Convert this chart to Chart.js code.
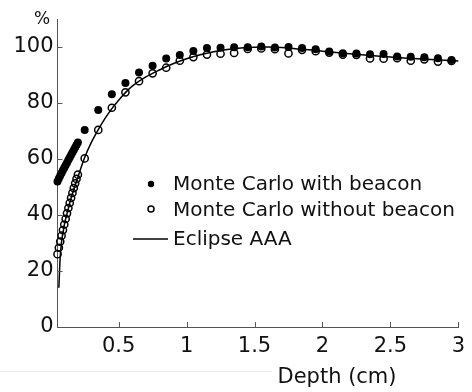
<!DOCTYPE html>
<html>
<head>
<meta charset="utf-8">
<script src="https://cdn.jsdelivr.net/npm/chart.js@4.4.0/dist/chart.umd.min.js"></script>
<style>
html,body{margin:0;padding:0;background:#fff;}
#wrap{width:472px;height:392px;position:relative;}
</style>
</head>
<body>
<div id="wrap"><canvas id="c" width="472" height="392"></canvas></div>
<script>
// ---- data ----
const depthFine = [0.05,0.06,0.07,0.08,0.09,0.10,0.11,0.12,0.13,0.14,0.15,0.16,0.17,0.18,0.19,0.20];
const withBeaconFine = [52.0,53.0,54.0,55.0,56.0,56.9,57.8,58.7,59.6,60.5,61.4,62.3,63.2,64.1,65.0,65.9];
const withoutBeaconFine = [26.0,28.3,30.5,32.6,34.6,36.6,38.6,40.6,42.5,44.3,46.1,47.9,49.6,51.3,52.9,54.4];

const depthCoarse = [0.25,0.35,0.45,0.55,0.65,0.75,0.85,0.95,1.05,1.15,1.25,1.35,1.45,1.55,1.65,1.75,1.85,1.95,2.05,2.15,2.25,2.35,2.45,2.55,2.65,2.75,2.85,2.95];
const withBeaconCoarse = [70.4,77.5,83.1,87.1,90.9,93.3,95.9,97.1,98.6,99.6,99.7,99.9,99.9,100.2,99.8,100.0,99.6,99.2,98.4,97.8,97.7,97.4,97.5,96.6,96.5,96.3,96.0,95.4];
const withoutBeaconCoarse = [60.2,70.4,78.3,83.8,87.8,90.6,92.6,95.1,96.4,97.3,97.6,97.9,99.3,99.5,99.2,97.7,99.0,98.5,98.0,97.3,97.2,95.9,95.8,96.0,95.1,95.6,94.8,95.0];

const depthAAA = [0.06,0.065,0.07,0.08,0.09,0.10,0.12,0.15,0.20,0.25,0.30,0.35,0.40,0.45,0.50,0.55,0.60,0.70,0.80,0.90,1.00,1.10,1.20,1.30,1.40,1.50,1.60,1.70,1.80,1.90,2.00,2.20,2.40,2.60,2.80,3.00];
const doseAAA = [14,20,25,30.5,33.5,36.5,40.5,46,53.5,60.5,66,70.5,74.5,78,81,83.7,86,89.3,91.8,94,95.8,97.2,98.3,99.1,99.6,99.9,100,99.8,99.4,99,98.5,97.6,96.8,96.1,95.5,95.0];

const xTicks = [0.5,1,1.5,2,2.5,3];
const yTicks = [0,20,40,60,80,100];
const legendLabels = ['Monte Carlo with beacon','Monte Carlo without beacon','Eclipse AAA'];
const yUnit = '%';
const xTitle = 'Depth (cm)';

function pts(xs, ys){ return xs.map((x,i)=>({x:x,y:ys[i]})); }

const FONT = '"DejaVu Sans", sans-serif';
const AXIS = '#555';

const innerTicks = {
  id:'innerTicks',
  afterDraw(chart){
    const ctx = chart.ctx, a = chart.chartArea, xs = chart.scales.x, ys = chart.scales.y;
    ctx.save();
    ctx.strokeStyle = AXIS; ctx.lineWidth = 1;
    ctx.beginPath();
    xTicks.forEach(v=>{ const px = Math.round(xs.getPixelForValue(v))+0.5; ctx.moveTo(px,a.bottom); ctx.lineTo(px,a.bottom-5); });
    yTicks.forEach(v=>{ const py = Math.round(ys.getPixelForValue(v))+0.5; ctx.moveTo(a.left,py); ctx.lineTo(a.left+5,py); });
    ctx.stroke();
    // faint line at bottom of figure
    ctx.strokeStyle = '#ececec';
    ctx.beginPath(); ctx.moveTo(0,371.5); ctx.lineTo(272,371.5); ctx.stroke();
    // texts
    ctx.fillStyle = '#111';
    ctx.font = '17px ' + FONT;
    ctx.textAlign = 'center'; ctx.textBaseline = 'middle';
    ctx.fillText(yUnit, 42, 20);
    ctx.font = '21px ' + FONT;
    ctx.textBaseline = 'alphabetic';
    ctx.fillText(xTitle, 337, 383);
    // legend
    ctx.font = '20px ' + FONT;
    ctx.textAlign = 'left';
    const base = [190, 216, 245];
    legendLabels.forEach((t,i)=>ctx.fillText(t, 173, base[i]));
    ctx.fillStyle = '#000';
    ctx.beginPath(); ctx.arc(151, 184, 3.2, 0, Math.PI*2); ctx.fill();
    ctx.strokeStyle = '#000'; ctx.lineWidth = 1.5;
    ctx.beginPath(); ctx.arc(151, 209, 3, 0, Math.PI*2); ctx.stroke();
    ctx.beginPath(); ctx.moveTo(133, 239); ctx.lineTo(168, 239); ctx.stroke();
    ctx.restore();
  }
};

new Chart(document.getElementById('c'), {
  type:'scatter',
  data:{
    datasets:[
      { label:legendLabels[0], data:pts(depthFine,withBeaconFine).concat(pts(depthCoarse,withBeaconCoarse)),
        pointStyle:'circle', pointRadius:4, pointBackgroundColor:'#000', pointBorderColor:'#000', pointBorderWidth:0, showLine:false, clip:false, order:0 },
      { label:legendLabels[2], data:pts(depthAAA,doseAAA), showLine:true, borderColor:'#000', borderWidth:1.5,
        cubicInterpolationMode:'monotone', pointRadius:0, clip:false, order:1 },
      { label:legendLabels[1], data:pts(depthFine,withoutBeaconFine).concat(pts(depthCoarse,withoutBeaconCoarse)),
        pointStyle:'circle', pointRadius:3.6, pointBackgroundColor:'rgba(255,255,255,0)', pointBorderColor:'#000', pointBorderWidth:1.5, showLine:false, clip:false, order:2 }
    ]
  },
  options:{
    responsive:false, animation:false, devicePixelRatio:1,
    layout:{ padding:{ left:0.5, right:8, top:19, bottom:0 } },
    plugins:{ legend:{display:false}, tooltip:{enabled:false}, title:{display:false} },
    scales:{
      x:{ type:'linear', min:0.05, max:3,
        grid:{display:false, drawTicks:false},
        border:{display:true, color:AXIS, width:1},
        ticks:{ font:{family:FONT, size:21}, color:'#111', padding:7, maxRotation:0, callback:v=>String(v) },
        afterBuildTicks:s=>{ s.ticks = xTicks.map(v=>({value:v})); },
        afterFit:s=>{ s.height = 65; }
      },
      y:{ type:'linear', min:0, max:110,
        grid:{display:false, drawTicks:false},
        border:{display:true, color:AXIS, width:1},
        ticks:{ font:{family:FONT, size:21}, color:'#111', padding:4, callback:v=>String(v) },
        afterBuildTicks:s=>{ s.ticks = yTicks.map(v=>({value:v})); },
        afterFit:s=>{ s.width = 57; }
      }
    }
  },
  plugins:[innerTicks]
});
</script>
</body>
</html>
